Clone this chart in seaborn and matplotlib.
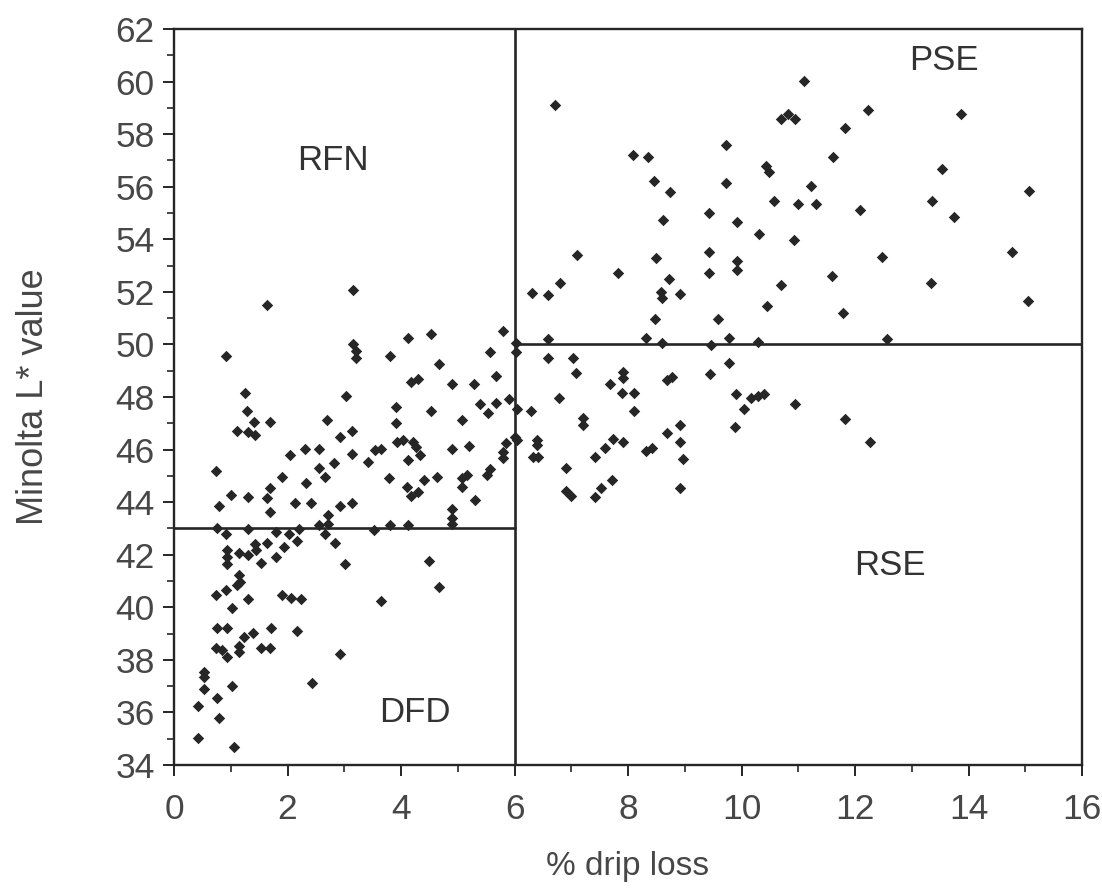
import matplotlib
matplotlib.use("Agg")
import matplotlib.pyplot as plt
from matplotlib.ticker import MultipleLocator
import numpy as np
import pandas as pd
import seaborn as sns

# Pork quality scatter: % drip loss vs Minolta L* value

# lower-left cluster (mostly DFD zone)
left_low_x = [1.43, 1.64, 1.93, 2.16, 2.83, 0.94, 0.94, 0.94, 1.14, 1.31, 1.44, 1.54,
              1.80, 3.01, 1.14, 1.17, 1.11, 0.92, 0.74, 1.30, 1.03, 1.91, 2.07, 2.23,
              0.76, 0.94, 1.71, 2.16, 1.24, 1.40, 0.74, 0.85, 0.94, 1.14, 1.14, 1.53,
              1.70, 2.92, 0.52, 0.52, 0.52, 1.03, 0.75, 0.42, 0.79, 2.43, 0.42, 1.05,
              4.50, 3.64, 4.67]
left_low_y = [42.41, 42.43, 42.31, 42.52, 42.43, 42.18, 41.93, 41.65, 42.05, 41.99, 42.18, 41.67,
              41.90, 41.65, 41.23, 40.97, 40.85, 40.66, 40.47, 40.30, 39.99, 40.47, 40.34, 40.32,
              39.23, 39.23, 39.23, 39.11, 38.88, 39.01, 38.44, 38.38, 38.12, 38.53, 38.31, 38.44,
              38.44, 38.22, 37.55, 37.34, 36.88, 37.02, 36.56, 36.25, 35.78, 37.11, 35.02, 34.67,
              41.76, 40.24, 40.78]

# left middle band (RFN zone and around the 43 line)
left_mid_x = [1.25, 1.29, 1.41, 1.70, 1.11, 1.31, 1.43, 2.70, 2.92, 2.04, 2.30, 2.55,
              2.82, 2.55, 2.66, 0.74, 1.91, 2.32, 1.70, 1.63, 1.01, 1.30, 0.79, 2.14,
              2.42, 2.92, 1.70, 2.71, 0.76, 0.92, 1.31, 1.80, 2.03, 2.20, 2.56, 2.72,
              2.66,
              3.03, 3.91, 4.52, 3.91, 5.07, 5.39, 5.53, 5.68, 5.91, 3.14, 3.93, 4.04,
              4.21, 4.27, 4.33, 4.13, 3.55, 3.64, 3.14, 3.41, 4.90, 5.19, 5.85, 5.79,
              5.79, 5.56, 5.51, 5.16, 5.07, 5.07, 3.79, 4.40, 4.63, 4.11, 4.17, 4.30,
              5.30, 3.14, 4.90, 4.90, 4.90, 3.52, 3.81, 4.13,
              3.15, 1.64, 0.91, 3.15, 3.20, 3.20, 4.13, 4.52, 3.80, 4.67, 4.18, 4.30,
              4.90, 5.29, 5.79, 5.57, 5.68]
left_mid_y = [48.14, 47.45, 47.04, 47.03, 46.72, 46.68, 46.56, 47.13, 46.47, 45.80, 46.03, 46.03,
              45.48, 45.29, 44.94, 45.19, 44.94, 44.72, 44.53, 44.15, 44.28, 44.21, 43.86, 43.96,
              43.96, 43.86, 43.62, 43.52, 43.01, 42.79, 42.97, 42.88, 42.79, 42.97, 43.14, 43.17,
              42.79,
              48.04, 47.61, 47.45, 47.00, 47.13, 47.74, 47.38, 47.79, 47.91, 46.69, 46.27, 46.37,
              46.30, 46.11, 45.80, 45.61, 45.99, 46.01, 45.82, 45.51, 46.01, 46.14, 46.24, 45.92,
              45.67, 45.25, 45.04, 45.04, 44.91, 44.57, 44.91, 44.85, 44.94, 44.59, 44.24, 44.37,
              44.09, 43.96, 43.73, 43.39, 43.15, 42.94, 43.13, 43.13,
              52.07, 51.50, 49.57, 50.01, 49.76, 49.47, 50.26, 50.38, 49.57, 49.24, 48.58, 48.67,
              48.48, 48.48, 50.51, 49.70, 48.80]

# samples sitting on the 6 % divide
divide_x = [6.02, 6.02, 6.05, 6.00, 6.05]
divide_y = [50.05, 49.72, 47.55, 46.48, 46.35]

# right middle band (6-10 % drip loss)
right_mid_x = [7.10, 6.31, 6.59, 6.81, 7.83, 8.49, 8.72, 8.58, 8.60, 8.92, 9.43, 9.43,
               9.92, 9.92, 8.48, 9.58, 6.59, 8.32, 8.60, 9.46, 9.78, 6.59, 7.03, 7.09,
               6.79, 6.29, 7.92, 7.92, 7.89, 7.69, 8.10, 8.10, 7.20, 7.20, 8.69, 8.78,
               9.45, 9.78, 9.90, 10.16, 10.05, 9.89, 6.40, 6.40, 6.32, 6.41, 6.91, 6.90,
               7.00, 7.42, 7.59, 7.73, 7.92, 8.32, 8.42, 8.69, 8.91, 8.91, 8.97, 8.91,
               7.42, 7.53, 7.71]
right_mid_y = [53.40, 51.97, 51.88, 52.35, 52.70, 53.27, 52.47, 52.00, 51.75, 51.90, 53.53, 52.70,
               53.18, 52.83, 50.97, 50.97, 50.19, 50.23, 50.06, 49.98, 50.23, 49.49, 49.49, 48.92,
               47.97, 47.48, 48.96, 48.71, 48.16, 48.49, 48.14, 47.48, 47.19, 46.93, 48.64, 48.77,
               48.86, 49.28, 48.11, 47.95, 47.53, 46.84, 46.36, 46.17, 45.70, 45.70, 45.29, 44.43,
               44.23, 45.73, 46.05, 46.39, 46.30, 45.96, 46.05, 46.62, 46.93, 46.30, 45.63, 44.52,
               44.18, 44.52, 44.84]

# upper right (PSE zone) and high drip loss samples
right_high_x = [6.72, 8.08, 8.36, 8.45, 8.74, 8.61, 9.72, 9.72, 9.43, 9.92,
                11.10, 10.70, 10.82, 10.95, 11.83, 12.22, 13.87, 11.61, 10.43, 10.49, 11.22, 10.58,
                10.99, 11.32, 12.09, 13.53, 13.36, 13.75, 15.06, 10.30, 10.93, 12.48, 14.77,
                11.59, 10.69, 13.34, 10.45, 11.78, 15.04, 10.29, 12.57, 10.29, 10.40, 10.94,
                11.83, 12.27]
right_high_y = [59.11, 57.21, 57.12, 56.23, 55.79, 54.75, 57.59, 56.14, 54.99, 54.65,
                60.01, 58.58, 58.77, 58.58, 58.23, 58.92, 58.77, 57.14, 56.80, 56.57, 56.04, 55.44,
                55.34, 55.34, 55.12, 56.67, 55.44, 54.86, 55.85, 54.20, 53.97, 53.31, 53.51,
                52.60, 52.26, 52.35, 51.46, 51.21, 51.65, 50.10, 50.20, 48.04, 48.11, 47.73,
                47.15, 46.27]

zone_names = ["RFN", "PSE", "DFD", "RSE"]
zone_x = [2.80, 13.57, 4.25, 12.62]
zone_y = [57.0, 60.8, 36.0, 41.6]

df = pd.DataFrame({
    "drip": left_low_x + left_mid_x + divide_x + right_mid_x + right_high_x,
    "L": left_low_y + left_mid_y + divide_y + right_mid_y + right_high_y,
})

sns.set_theme(style="ticks")
plt.rcParams["font.family"] = ["Liberation Sans", "DejaVu Sans"]

ink = "#262626"
fig = plt.figure(figsize=(11.02, 8.89), dpi=100)
ax = fig.add_axes([0.1579, 0.1395, 0.8240, 0.8279])

sns.scatterplot(data=df, x="drip", y="L", marker="D", s=34, color=ink,
                linewidth=0, ax=ax, zorder=3)

# quality class boundaries
ax.axvline(6, color=ink, lw=1.9, zorder=2)
ax.plot([0, 6], [43, 43], color=ink, lw=1.9, zorder=2)
ax.plot([6, 16], [50, 50], color=ink, lw=1.9, zorder=2)

for name, zx, zy in zip(zone_names, zone_x, zone_y):
    ax.text(zx, zy, name, ha="center", va="center", fontsize=25, color="#333333")

ax.set_xlim(0, 16)
ax.set_ylim(34, 62)
ax.xaxis.set_major_locator(MultipleLocator(2))
ax.xaxis.set_minor_locator(MultipleLocator(1))
ax.yaxis.set_major_locator(MultipleLocator(2))
ax.yaxis.set_minor_locator(MultipleLocator(1))

for side in ["left", "right", "top", "bottom"]:
    ax.spines[side].set_visible(True)
    ax.spines[side].set_color(ink)
    ax.spines[side].set_linewidth(1.7)

ax.tick_params(axis="both", which="major", length=8, width=1.4, color=ink,
               labelsize=25.5, labelcolor="#474747", direction="out")
ax.tick_params(axis="both", which="minor", length=5, width=1.2, color=ink, direction="out")
ax.tick_params(axis="x", which="major", pad=12)
ax.tick_params(axis="y", which="major", pad=6)

ax.set_xlabel("% drip loss", fontsize=24, color="#474747", labelpad=18)
ax.set_ylabel("Minolta L* value", fontsize=26, color="#474747", labelpad=46)
ax.grid(False)

fig.savefig("out.png", dpi=100, facecolor="white")
